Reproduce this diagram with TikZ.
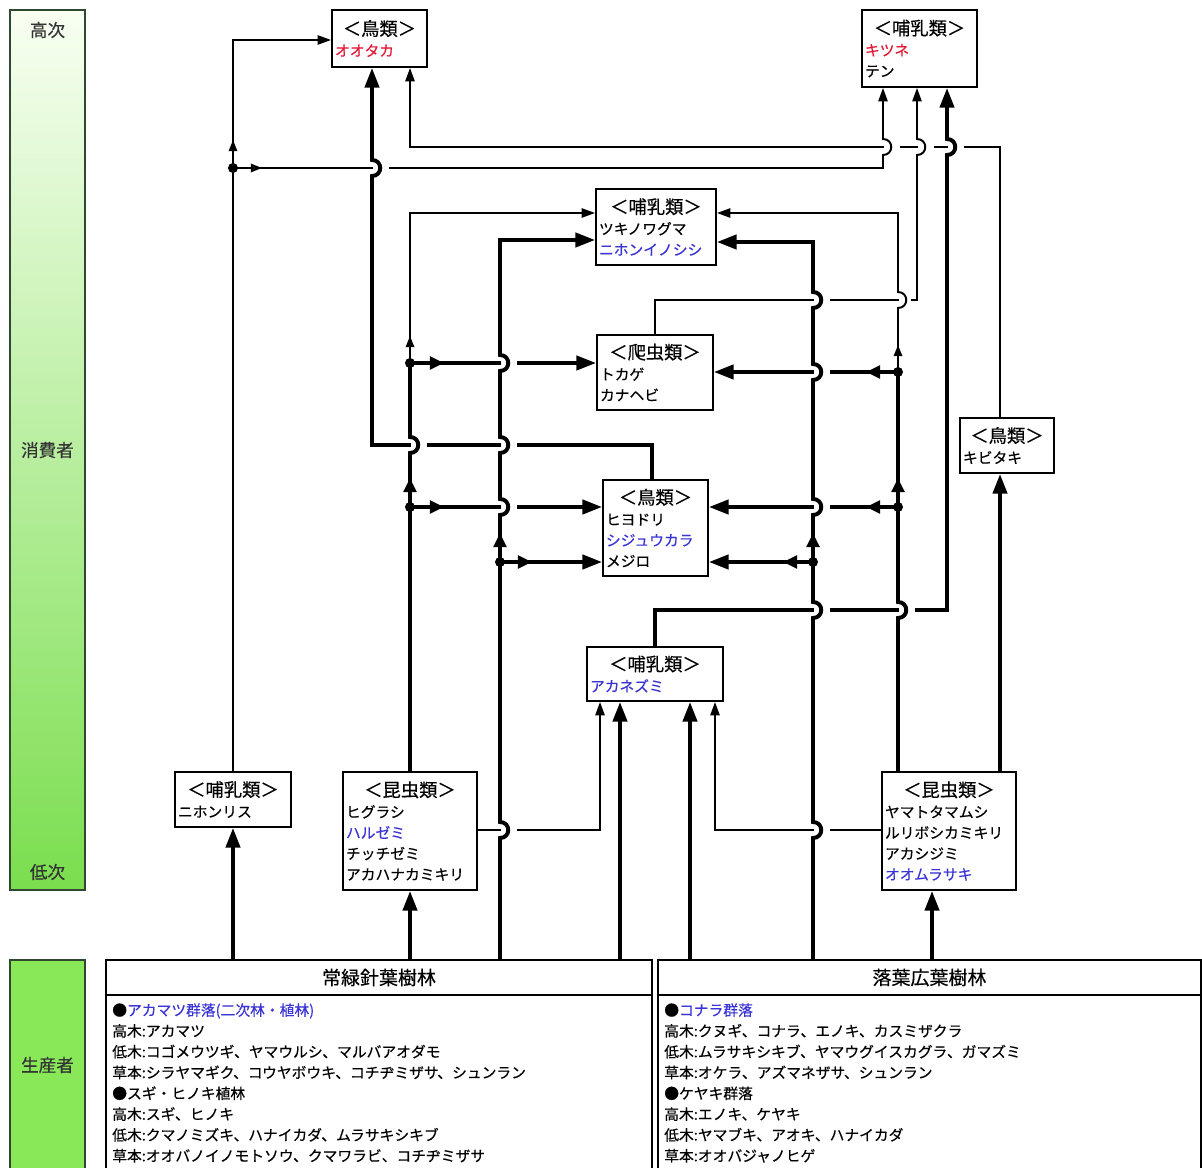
\documentclass[tikz,border=0pt]{standalone}
\usepackage{fontspec}
\setmainfont{Noto Sans CJK JP}[FakeBold=0.4]
\usetikzlibrary{arrows.meta}
\definecolor{spred}{RGB}{226,24,54}
\definecolor{spblue}{RGB}{58,52,212}
\definecolor{barhi}{RGB}{248,255,242}
\definecolor{barlo}{RGB}{122,222,78}
\definecolor{barprod}{RGB}{136,232,88}
\definecolor{barline}{RGB}{48,72,48}
\newcommand{\boxhead}[1]{\makebox[\linewidth]{\fontsize{13pt}{14.8pt}\selectfont #1}}
% vertical line hopping over a horizontal one at (x,y)
\newcommand{\jumpup}[2]{-- (#1,#2+8) .. controls (#1+11,#2+8) and (#1+11,#2-8) .. (#1,#2-8)}
\newcommand{\cutgap}[3][17]{\fill[white] (#2+1,#3-4) rectangle (#2+#1,#3+4);}

\begin{document}
\begin{tikzpicture}[x=0.025cm, y=-0.025cm,
  sp/.style={draw, line width=1.3pt, fill=white, inner xsep=0.075cm, inner ysep=0pt, align=left, font=\fontsize{10.5pt}{14.8pt}\selectfont},
  forestbox/.style={draw, line width=1.3pt, fill=white, inner sep=0pt, font=\fontsize{13.5pt}{15pt}\selectfont},
  listbox/.style={anchor=north west, inner xsep=0.15cm, inner ysep=0.2cm, align=left, font=\fontsize{10.5pt}{14.8pt}\selectfont},
  barlab/.style={font=\fontsize{12.5pt}{15pt}\selectfont, text=black!80},
  thk/.style={line width=2.8pt, -{Triangle[length=14pt,width=10pt]}},
  thn/.style={line width=1.4pt, -{Triangle[length=9.5pt,width=6.5pt]}},
  midthk/.style={line width=2.8pt, -{Triangle[length=10pt,width=9pt]}},
  midthn/.style={line width=1.4pt, -{Triangle[length=8pt,width=6pt]}},
  thkline/.style={line width=2.8pt}]
\useasboundingbox (0,0) rectangle (1202,1168);

% level bars
\draw[barline, line width=1.4pt, top color=barhi, bottom color=barlo] (10,10) rectangle (85,890);
\draw[barline, line width=1.4pt, fill=barprod] (10,960) rectangle (85,1190);
\node[barlab] (hiLab) at (47.5,30) {高次};
\node[barlab] (conLab) at (47.5,450) {消費者};
\node[barlab] (loLab) at (47.5,872) {低次};
\node[barlab] (proLab) at (47.5,1065) {生産者};

% consumers
\node[sp, text width=2.225cm, minimum height=1.425cm] (taka) at (379.5,38.5) {\boxhead{＜鳥類＞}\\\textcolor{spred}{オオタカ}};
\node[sp, text width=2.725cm, minimum height=1.925cm] (kitsune) at (919.5,48.5) {\boxhead{＜哺乳類＞}\\\textcolor{spred}{キツネ}\\テン};
\node[sp, text width=2.85cm, minimum height=1.9cm] (bear) at (656,227) {\boxhead{＜哺乳類＞}\\ツキノワグマ\\\textcolor{spblue}{ニホンイノシシ}};
\node[sp, text width=2.75cm, minimum height=1.875cm] (tokage) at (655,372.5) {\boxhead{＜爬虫類＞}\\トカゲ\\カナヘビ};
\node[sp, text width=2.475cm, minimum height=2.4cm] (hiyo) at (655.5,528) {\boxhead{＜鳥類＞}\\ヒヨドリ\\\textcolor{spblue}{シジュウカラ}\\メジロ};
\node[sp, text width=3.25cm, minimum height=1.35cm] (akane) at (655,674) {\boxhead{＜哺乳類＞}\\\textcolor{spblue}{アカネズミ}};
\node[sp, text width=2.2cm, minimum height=1.375cm] (kibi) at (1007,445.5) {\boxhead{＜鳥類＞}\\キビタキ};
\node[sp, text width=2.75cm, minimum height=1.375cm] (risu) at (233,799.5) {\boxhead{＜哺乳類＞}\\ニホンリス};
\node[sp, text width=3.2cm, minimum height=2.95cm] (lins) at (410,831) {\boxhead{＜昆虫類＞}\\ヒグラシ\\\textcolor{spblue}{ハルゼミ}\\チッチゼミ\\アカハナカミキリ};
\node[sp, text width=3.2cm, minimum height=2.95cm] (rins) at (949,831) {\boxhead{＜昆虫類＞}\\ヤマトタマムシ\\ルリボシカミキリ\\アカシジミ\\\textcolor{spblue}{オオムラサキ}};

% producers
\draw[line width=1.3pt] (106,995) rectangle (652,1195);
\draw[line width=1.3pt] (658,995) rectangle (1201,1195);
\node[listbox, text width=13.35cm] (listL) at (106,995) {●\textcolor{spblue}{アカマツ群落(二次林・植林)}\\高木:アカマツ\\低木:コゴメウツギ、ヤマウルシ、マルバアオダモ\\草本:シラヤマギク、コウヤボウキ、コチヂミザサ、シュンラン\\●スギ・ヒノキ植林\\高木:スギ、ヒノキ\\低木:クマノミズキ、ハナイカダ、ムラサキシキブ\\草本:オオバノイノモトソウ、クマワラビ、コチヂミザサ};
\node[listbox, text width=13.275cm] (listR) at (658,995) {●\textcolor{spblue}{コナラ群落}\\高木:クヌギ、コナラ、エノキ、カスミザクラ\\低木:ムラサキシキブ、ヤマウグイスカグラ、ガマズミ\\草本:オケラ、アズマネザサ、シュンラン\\●ケヤキ群落\\高木:エノキ、ケヤキ\\低木:ヤマブキ、アオキ、ハナイカダ\\草本:オオバジャノヒゲ};
\node[forestbox, minimum width=13.65cm, minimum height=0.875cm] (forestL) at (379,977.5) {常緑針葉樹林};
\node[forestbox, minimum width=13.575cm, minimum height=0.875cm] (forestR) at (929.5,977.5) {落葉広葉樹林};

% upper links
\draw[thn] (kibi.north -| 1000,0) -- (1000,147) -- (410,147) -- (taka.south -| 410,0);
\draw[thn] (risu.north) -- (risu.north |- 0,40) -- (taka.west |- 0,40);
\cutgap{883}{147}
\draw[thn] (233,168) -- (883,168) \jumpup{883}{147} -- (kitsune.south -| 883,0);
\cutgap{917}{147}
\draw[thn] (tokage.north -| 655,0) -- (655,300) -- (917,300) \jumpup{917}{147} -- (kitsune.south -| 917,0);
\cutgap{947}{147}
\draw[thk] (akane.north) -- (655,610) -- (947,610) \jumpup{947}{147} -- (kitsune.south -| 947,0);
\cutgap{372}{168}
\draw[thk] (hiyo.north -| 652,0) -- (652,445) -- (372,445) \jumpup{372}{168} -- (taka.south -| 372,0);

% insects to mice
\draw[thn] (lins.east |- 0,830) -- (600,830) -- (akane.south -| 600,0);
\draw[thn] (rins.west |- 0,830) -- (715,830) -- (akane.south -| 715,0);

% branches
\draw[thk] (410,363) -- (tokage.west |- 0,363);
\draw[thk] (410,507) -- (hiyo.west |- 0,507);
\draw[thk] (500,562) -- (hiyo.west |- 0,562);
\draw[thk] (898,372) -- (tokage.east |- 0,372);
\draw[thk] (898,507) -- (hiyo.east |- 0,507);
\draw[thk] (813,562) -- (hiyo.east |- 0,562);

% trunks
\cutgap{410}{445}
\foreach \y in {830,507,445,363} {\cutgap{500}{\y}}
\foreach \y in {830,610,507,372,300} {\cutgap{813}{\y}}
\cutgap{898}{610}
\cutgap[13]{898}{300}
\draw[thkline] (lins.north) \jumpup{410}{445} -- (410,363);
\draw[thn] (410,363) -- (410,213) -- (bear.west |- 0,213);
\draw[thk] (forestL.north -| 500,0) \jumpup{500}{830} \jumpup{500}{507} \jumpup{500}{445} \jumpup{500}{363} -- (500,240) -- (bear.west |- 0,240);
\draw[thk] (forestR.north -| 813,0) \jumpup{813}{830} \jumpup{813}{610} \jumpup{813}{507} \jumpup{813}{372} \jumpup{813}{300} -- (813,242) -- (bear.east |- 0,242);
\draw[thkline] (rins.north -| 898,0) \jumpup{898}{610} -- (898,372);
\draw[thn] (898,372) \jumpup{898}{300} -- (898,213) -- (bear.east |- 0,213);

% from producers
\draw[thk] (forestL.north -| risu.south) -- (risu.south);
\draw[thk] (forestL.north -| lins.south) -- (lins.south);
\draw[thk] (forestL.north -| 620,0) -- (akane.south -| 620,0);
\draw[thk] (forestR.north -| 690,0) -- (akane.south -| 690,0);
\draw[thk] (forestR.north -| 932,0) -- (rins.south -| 932,0);
\draw[thk] (rins.north -| 1000,0) -- (kibi.south -| 1000,0);

% junctions
\foreach \p in {(233,168),(410,363),(410,507),(500,562),(898,372),(898,507),(813,562)}
  \fill \p circle[radius=5];
\draw[midthn] (233,158) -- (233,140);
\draw[midthn] (243,168) -- (262,168);
\draw[midthn] (410,352) -- (410,336);
\draw[midthn] (898,360) -- (898,345);
\draw[midthk] (418,363) -- (444,363);
\draw[midthk] (418,507) -- (444,507);
\draw[midthk] (508,562) -- (532,562);
\draw[midthk] (410,500) -- (410,478);
\draw[midthk] (500,555) -- (500,533);
\draw[midthk] (890,372) -- (866,372);
\draw[midthk] (890,507) -- (866,507);
\draw[midthk] (805,562) -- (783,562);
\draw[midthk] (898,500) -- (898,478);
\draw[midthk] (813,555) -- (813,533);
\end{tikzpicture}
\end{document}
